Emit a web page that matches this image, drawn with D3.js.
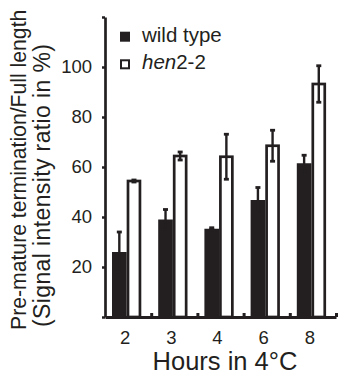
<!DOCTYPE html>
<html>
<head>
<meta charset="utf-8">
<script src="https://cdn.jsdelivr.net/npm/d3@7"></script>
<style>
  body { margin: 0; background: #fff; }
  svg { display: block; font-family: "Liberation Sans", Arial, sans-serif; }
</style>
</head>
<body>
<div id="chart"></div>
<script>
// values (ratio in %)
const hours = ['2', '3', '4', '6', '8'];
const seriesNames = ['wild type', 'hen2-2'];
const wildType = [26, 39, 35.3, 46.8, 61.5];
const wildTypeErr = [8, 4, 0.4, 5, 3.2];
const hen22 = [54.4, 64.4, 64.1, 68.5, 93.2];
const hen22Err = [0.4, 1.6, 9, 6.2, 7.3];
const yTicks = [0, 20, 40, 60, 80, 100, 120];

const width = 338, height = 376;
const ink = '#231f20';
const plot = { left: 105, right: 336, top: 17, bottom: 317 };

const svg = d3.select('#chart').append('svg')
  .attr('width', width)
  .attr('height', height);

// outer band = one hour, inner band = the two genotypes
const x0 = d3.scaleBand().domain(hours).range([plot.left, plot.right]);
const x1 = d3.scaleBand().domain(seriesNames).range([7, 36.3]);
const y = d3.scaleLinear().domain([0, 120]).range([plot.bottom, plot.top]);
const bw = x1.bandwidth();

const rows = hours.map((h, i) => ({
  hour: h,
  wt: { value: wildType[i], err: wildTypeErr[i] },
  mut: { value: hen22[i], err: hen22Err[i] }
}));

const groups = svg.selectAll('g.group')
  .data(rows)
  .enter()
  .append('g')
  .attr('class', 'group')
  .attr('transform', d => `translate(${x0(d.hour)},0)`);

// error bar helper (vertical line + caps)
function errorBar(sel, key, cx) {
  const g = sel.append('g').attr('stroke', ink).attr('fill', 'none');
  g.append('line')
    .attr('x1', cx).attr('x2', cx)
    .attr('y1', d => y(d[key].value - d[key].err))
    .attr('y2', d => y(d[key].value + d[key].err))
    .attr('stroke-width', 2.4);
  [-1, 1].forEach(s => {
    g.append('line')
      .attr('x1', cx - 2.5).attr('x2', cx + 2.5)
      .attr('y1', d => y(d[key].value + s * d[key].err))
      .attr('y2', d => y(d[key].value + s * d[key].err))
      .attr('stroke-width', 2.8);
  });
}

// wild type: filled bars
groups.append('rect')
  .attr('x', x1(seriesNames[0]))
  .attr('y', d => y(d.wt.value))
  .attr('width', bw)
  .attr('height', d => y(0) - y(d.wt.value))
  .attr('fill', ink);
errorBar(groups, 'wt', x1(seriesNames[0]) + bw / 2);

// hen2-2: open bars
groups.append('rect')
  .attr('x', x1(seriesNames[1]) + 1.35)
  .attr('y', d => y(d.mut.value))
  .attr('width', bw - 2.7)
  .attr('height', d => y(0) - y(d.mut.value))
  .attr('fill', '#fff')
  .attr('stroke', ink)
  .attr('stroke-width', 2.7);
errorBar(groups, 'mut', x1(seriesNames[1]) + bw / 2);

// y axis
const yAxis = d3.axisLeft(y)
  .tickValues(yTicks)
  .tickSize(3)
  .tickSizeOuter(0)
  .tickPadding(10)
  .tickFormat(d => (d === 0 || d === 120) ? '' : d);

svg.append('g')
  .attr('transform', `translate(${plot.left},0)`)
  .call(yAxis)
  .attr('font-family', null)
  .attr('font-size', 18.5)
  .call(g => g.select('.domain').attr('stroke', ink).attr('stroke-width', 2.7))
  .call(g => g.selectAll('.tick line').attr('stroke', ink).attr('stroke-width', 2.5))
  .call(g => g.selectAll('.tick text').attr('fill', ink));

// x axis line with small marks at group edges
const xEdge = d3.scaleLinear().domain([0, hours.length]).range([plot.left, plot.right]);
svg.append('g')
  .attr('transform', `translate(0,${plot.bottom})`)
  .call(d3.axisBottom(xEdge)
    .tickValues(hours.map((h, i) => i + 1))
    .tickSize(-4)
    .tickSizeOuter(0)
    .tickFormat(''))
  .call(g => g.select('.domain').attr('stroke', ink).attr('stroke-width', 3))
  .call(g => g.selectAll('.tick line').attr('stroke', ink).attr('stroke-width', 3));

// hour labels
svg.append('g')
  .attr('transform', `translate(-3,${plot.bottom})`)
  .call(d3.axisBottom(x0).tickSize(0).tickPadding(14))
  .attr('font-family', null)
  .attr('font-size', 18.5)
  .call(g => g.select('.domain').remove())
  .call(g => g.selectAll('.tick text').attr('fill', ink));

// axis titles
svg.append('text')
  .attr('x', 225)
  .attr('y', 370)
  .attr('text-anchor', 'middle')
  .attr('font-size', 25.5)
  .attr('fill', ink)
  .text('Hours in 4°C');

svg.append('text')
  .attr('transform', 'translate(26,330) rotate(-90)')
  .attr('font-size', 21.2)
  .attr('fill', ink)
  .text('Pre-mature termination/Full length');

svg.append('text')
  .attr('transform', 'translate(50,327) rotate(-90)')
  .attr('font-size', 23)
  .attr('textLength', 283)
  .attr('lengthAdjust', 'spacing')
  .attr('fill', ink)
  .text('(Signal intensity ratio in %)');

// legend
const legend = svg.append('g').attr('transform', 'translate(120,0)');
legend.append('rect')
  .attr('x', 0).attr('y', 31.7)
  .attr('width', 10).attr('height', 10)
  .attr('fill', ink);
legend.append('rect')
  .attr('x', 1).attr('y', 60.3)
  .attr('width', 8).attr('height', 8)
  .attr('fill', '#fff')
  .attr('stroke', ink)
  .attr('stroke-width', 2);
legend.append('text')
  .attr('x', 22).attr('y', 41.7)
  .attr('font-size', 20.5)
  .attr('fill', ink)
  .text(seriesNames[0]);
const mutLabel = legend.append('text')
  .attr('x', 22).attr('y', 69.3)
  .attr('font-size', 20.5)
  .attr('fill', ink);
mutLabel.append('tspan').attr('font-style', 'italic').text('hen');
mutLabel.append('tspan').text('2-2');
</script>
</body>
</html>
